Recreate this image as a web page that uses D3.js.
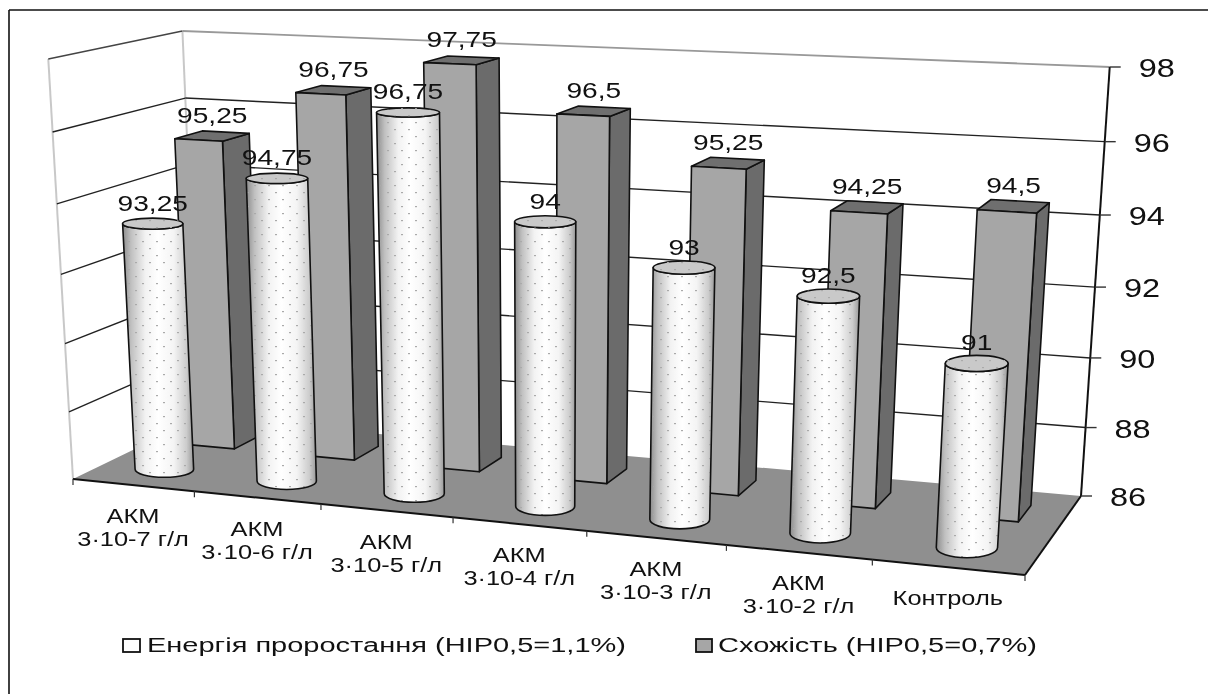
<!DOCTYPE html>
<html><head><meta charset="utf-8">
<script src="https://cdn.jsdelivr.net/npm/d3@7/dist/d3.min.js"></script>
<style>html,body{margin:0;padding:0;background:#fff}svg{display:block;filter:blur(0.45px)}text{font-family:"Liberation Sans",Arial,sans-serif;fill:#111}</style>
</head><body><svg id="c" width="1208" height="694"></svg>
<script>
const categories=[["АКМ","3·10-7 г/л"],["АКМ","3·10-6 г/л"],["АКМ","3·10-5 г/л"],["АКМ","3·10-4 г/л"],["АКМ","3·10-3 г/л"],["АКМ","3·10-2 г/л"],["Контроль"]];
const germination=[93.25,94.75,96.75,94,93,92.5,91];
const emergence=[95.25,96.75,97.75,96.5,95.25,94.25,94.5];
const germLabels=["93,25","94,75","96,75","94","93","92,5","91"];
const emerLabels=["95,25","96,75","97,75","96,5","95,25","94,25","94,5"];
const yTicks=[86,88,90,92,94,96,98];
const legendNames=["Енергія проростання (НІР0,5=1,1%)","Схожість (НІР0,5=0,7%)"];

const svg=d3.select("#c");
const defs=svg.append("defs");
const pat=defs.append("pattern").attr("id","dots").attr("patternUnits","userSpaceOnUse").attr("width",14).attr("height",14);
pat.append("rect").attr("x",2).attr("y",3).attr("width",2).attr("height",1.2).attr("fill","#aaa");
pat.append("rect").attr("x",9).attr("y",10).attr("width",2).attr("height",1.2).attr("fill","#aaa");
const grad=defs.append("linearGradient").attr("id","cyl").attr("x1",0).attr("x2",1).attr("y1",0).attr("y2",0);
[[0,"#8c8c8c"],[.12,"#c0c0c0"],[.32,"#f2f2f2"],[.5,"#ffffff"],[.72,"#f4f4f4"],[.9,"#cccccc"],[1,"#989898"]].forEach(s=>grad.append("stop").attr("offset",s[0]).attr("stop-color",s[1]));

// projective camera: unit floor square + vertical vanishing point
const Q={p00:[73,479],p10:[1025,575],p11:[1081,496],p01:[199,418]};
const topY={p00:59,p01:31,p11:67};
const VP=[545,8500];
const [x0,y0]=Q.p00,[x1,y1]=Q.p10,[x2,y2]=Q.p11,[x3,y3]=Q.p01;
const dx1=x1-x2,dx2=x3-x2,sx=x0-x1+x2-x3,dy1=y1-y2,dy2=y3-y2,sy=y0-y1+y2-y3;
const den=dx1*dy2-dx2*dy1;
const g=(sx*dy2-dx2*sy)/den,h=(dx1*sy-sx*dy1)/den;
const a=x1-x0+g*x1,b=x3-x0+h*x3,d=y1-y0+g*y1,e=y3-y0+h*y3;
const ratio=(y,t)=>-(y-t)/(VP[1]-t);
const k0=ratio(y0,topY.p00),kB=ratio(y3,topY.p01)*(1+h),kBR=ratio(y2,topY.p11)*(1+g+h);
const k2=kB-k0,k1=kBR-k0-k2;
const N=categories.length;
const uScale=d3.scaleLinear().domain([0,3,N]).range([0,3/N+.0075,1]);
const zScale=d3.scaleLinear().domain([86,98]).range([0,1]);
function P(u,v,val){
  const U=uScale(u),H=zScale(val),K=(k0+k1*U+k2*v)*H,W=g*U+h*v+1+K;
  return [(a*U+b*v+x0+K*VP[0])/W,(d*U+e*v+y0+K*VP[1])/W];
}
const poly=pts=>"M"+pts.map(p=>p[0].toFixed(1)+","+p[1].toFixed(1)).join("L")+"Z";
const line=(p,q,col,w)=>svg.append("line").attr("x1",p[0]).attr("y1",p[1]).attr("x2",q[0]).attr("y2",q[1]).attr("stroke",col).attr("stroke-width",w);
const zMin=yTicks[0],zMax=yTicks[yTicks.length-1];

// walls
line(P(0,0,zMin),P(0,0,zMax),"#c8c8c8",2);
line(P(0,1,zMin),P(0,1,zMax),"#c8c8c8",2);
line(P(0,0,zMax),P(0,1,zMax),"#444",1.6);
line(P(0,1,zMax),P(N,1,zMax),"#999",1.8);
// gridlines
yTicks.slice(1,-1).forEach(t=>{
  line(P(0,0,t),P(0,1,t),"#222",1.4);
  line(P(0,1,t),P(N,1,t),"#222",1.4);
});
// floor
svg.append("path").attr("d",poly([P(0,0,zMin),P(N,0,zMin),P(N,1,zMin),P(0,1,zMin)])).attr("fill","#8f8f8f");
line(P(0,0,zMin),P(N,0,zMin),"#111",2);
line(P(N,0,zMin),P(N,1,zMin),"#111",2);
// axis
line(P(N,1,zMin),P(N,1,zMax),"#111",2);
yTicks.forEach(t=>{
  const p=P(N,1,t);
  line(p,[p[0]+11,p[1]],"#333",1.4);
  svg.append("text").attr("transform",`translate(${p[0]+47},${p[1]+10}) scale(1.3,1)`).attr("text-anchor","middle").attr("font-size",25).text(t);
});
// category ticks & labels
d3.range(N+1).forEach(i=>{const p=P(i,0,zMin);line(p,[p[0],p[1]+6],"#333",1.2);});
categories.forEach((c,i)=>{
  const p=P(i+.5,0,zMin);
  c.forEach((s,j)=>svg.append("text").attr("transform",`translate(${p[0]},${p[1]+38+j*23}) scale(1.24,1)`).attr("text-anchor","middle").attr("font-size",20.5).attr("fill","#222").text(s));
});
// boxes
const hw=.197,vb0=.6,vb1=.82,bu=.52;
const stroke={stroke:"#111","stroke-width":1.6,"stroke-linejoin":"round"};
function st(sel){Object.entries(stroke).forEach(([k,v])=>sel.attr(k,v));return sel;}
emergence.forEach((val,i)=>{
  const u0=i+bu-hw,u1=i+bu+hw;
  st(svg.append("path").attr("d",poly([P(u1,vb0,zMin),P(u1,vb1,zMin),P(u1,vb1,val),P(u1,vb0,val)])).attr("fill","#6b6b6b"));
  st(svg.append("path").attr("d",poly([P(u0,vb0,val),P(u1,vb0,val),P(u1,vb1,val),P(u0,vb1,val)])).attr("fill","#6f6f6f"));
  st(svg.append("path").attr("d",poly([P(u0,vb0,zMin),P(u1,vb0,zMin),P(u1,vb0,val),P(u0,vb0,val)])).attr("fill","#a6a6a6"));
});
// cylinders
const rv=.125,vc=.24;
const ruAt=d3.scaleLinear().domain([0,N-1]).range([.245,.205]);
const ucAt=d3.scaleLinear().domain([0,N-1]).range([.5,.52]);
germination.forEach((val,i)=>{
  const u=i+ucAt(i),ru=ruAt(i);
  const tc=P(u,vc,val),bc=P(u,vc,zMin);
  const tRx=Math.abs(P(u+ru,vc,val)[0]-P(u-ru,vc,val)[0])/2,bRx=Math.abs(P(u+ru,vc,zMin)[0]-P(u-ru,vc,zMin)[0])/2;
  const tRy=Math.abs(P(u,vc-rv,val)[1]-P(u,vc+rv,val)[1])/2;
  const bRy=Math.abs(P(u,vc-rv,zMin)[1]-P(u,vc+rv,zMin)[1])/2;
  const tl=[tc[0]-tRx,tc[1]],tr=[tc[0]+tRx,tc[1]],bl=[bc[0]-bRx,bc[1]],br=[bc[0]+bRx,bc[1]];
  const body=`M${tl}L${bl}A${bRx},${bRy} 0 0 0 ${br}L${tr}A${tRx},${tRy} 0 0 1 ${tl}Z`;
  svg.append("path").attr("d",body).attr("fill","url(#cyl)");
  st(svg.append("path").attr("d",body).attr("fill","url(#dots)"));
  const top=`M${tl}A${tRx},${tRy} 0 1 1 ${tr}A${tRx},${tRy} 0 1 1 ${tl}Z`;
  st(svg.append("path").attr("d",top).attr("fill","#c9c9c9"));
  svg.append("path").attr("d",top).attr("fill","url(#dots)");
});
// value labels
const vlab=(p,s)=>svg.append("text").attr("transform",`translate(${p[0]},${p[1]-13}) scale(1.25,1)`).attr("text-anchor","middle").attr("font-size",22.5).text(s);
emergence.forEach((val,i)=>vlab(P(i+bu,(vb0+vb1)/2,val),emerLabels[i]));
germination.forEach((val,i)=>vlab(P(i+ucAt(i),vc,val),germLabels[i]));
// frame
line([9,10],[1208,10],"#111",1.6);
line([9,10],[9,694],"#111",1.6);
// legend
const leg=[{x:123,tx:147,tw:479,fill:"#fff",w:17},{x:696,tx:718,tw:319,fill:"#a6a6a6",w:16}];
leg.forEach((l,i)=>{
  svg.append("rect").attr("x",l.x).attr("y",639).attr("width",l.w).attr("height",13).attr("fill",l.fill).attr("stroke","#111").attr("stroke-width",1.8);
  svg.append("text").attr("x",l.tx).attr("y",652).attr("font-size",20).attr("textLength",l.tw).attr("lengthAdjust","spacingAndGlyphs").text(legendNames[i]);
});
</script></body></html>
